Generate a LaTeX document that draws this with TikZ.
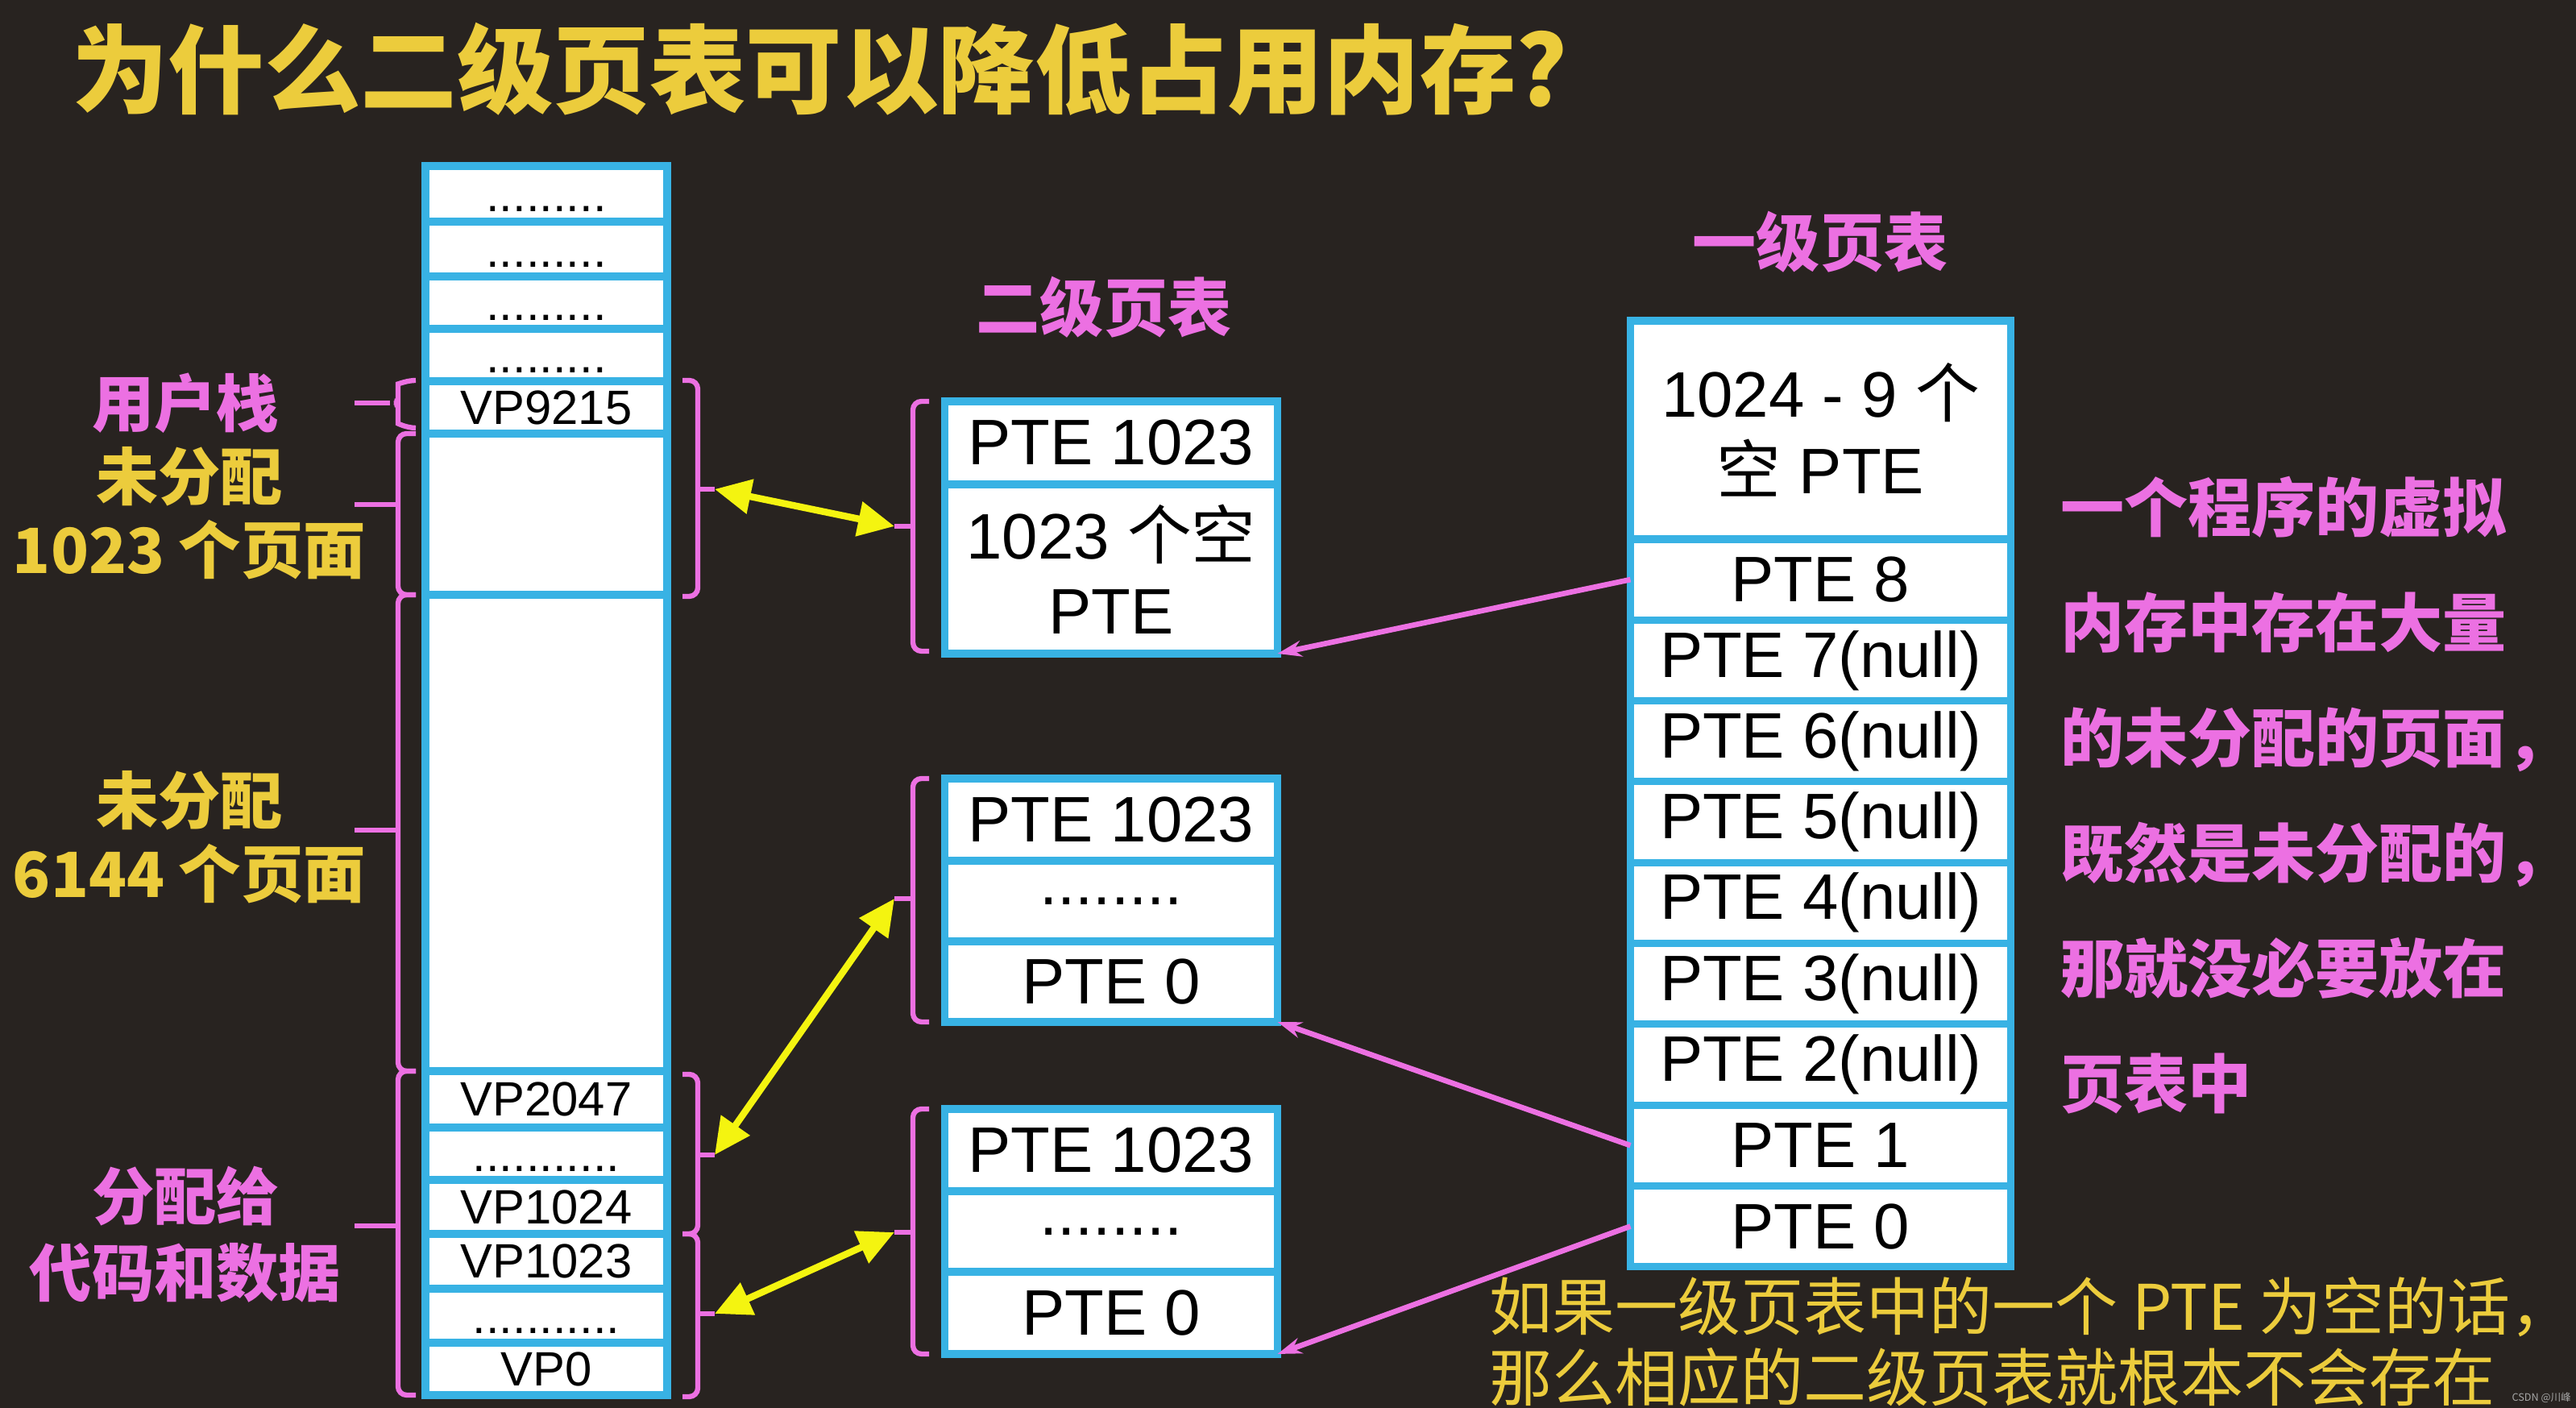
\documentclass[tikz,border=0pt]{standalone}
\usepackage{fontspec}
\setmainfont{Liberation Sans}
\newfontfamily\cjk{Noto Sans CJK SC}
\usetikzlibrary{positioning,arrows.meta}

\definecolor{bgdark}{RGB}{40,35,32}
\definecolor{cellblue}{RGB}{56,178,228}
\definecolor{lblpink}{RGB}{236,112,226}
\definecolor{lblyellow}{RGB}{236,204,60}
\definecolor{arrowyellow}{RGB}{244,244,16}

\tikzset{
  vcell/.style={draw=cellblue, line width=2.6pt, fill=white, inner sep=0pt, outer sep=0pt,
    minimum width=3.0cm, font=\fontsize{17}{20}\selectfont},
  pcell/.style={vcell, minimum width=4.13cm, font=\fontsize{22.7}{26.5}\selectfont},
  rcell/.style={vcell, minimum width=4.72cm, font=\fontsize{22.7}{27.2}\selectfont},
  dotrow/.style={text height=0.45cm, text depth=0pt},
  ptext/.style={text=lblpink, font=\cjk\bfseries\fontsize{22}{26}\selectfont, align=center},
  ytext/.style={ptext, text=lblyellow},
  brak/.style={draw=lblpink, line width=1.8pt, rounded corners=3pt},
  yarrow/.style={draw=arrowyellow, line width=2.4pt,
    {Triangle[length=0.45cm,width=0.42cm]}-{Triangle[length=0.45cm,width=0.42cm]}},
  parrow/.style={draw=lblpink, line width=1.9pt, -{Stealth[length=0.3cm,width=0.2cm]}},
}

\begin{document}
\begin{tikzpicture}
\useasboundingbox (0,0) rectangle (31.97,17.47);
\fill[bgdark] (0,0) rectangle (31.97,17.47);
\clip (0,0) rectangle (31.97,17.47);

\node[ytext, anchor=west, font=\cjk\bfseries\fontsize{34}{40}\selectfont] (title) at (0.77,16.61) {为什么二级页表可以降低占用内存?};

% virtual pages
\node[vcell, dotrow, minimum height=0.69cm] (m1) at (6.78,15.065) {.........};
\node[vcell, dotrow, minimum height=0.68cm, below=0pt of m1] (m2) {.........};
\node[vcell, dotrow, minimum height=0.65cm, below=0pt of m2] (m3) {.........};
\node[vcell, dotrow, minimum height=0.65cm, below=0pt of m3] (m4) {.........};
\node[vcell, minimum height=0.65cm, below=0pt of m4] (vp9215) {VP9215};
\node[vcell, minimum height=2.00cm, below=0pt of vp9215] (free1) {};
\node[vcell, minimum height=5.91cm, below=0pt of free1] (free2) {};
\node[vcell, minimum height=0.70cm, below=0pt of free2] (vp2047) {VP2047};
\node[vcell, dotrow, minimum height=0.65cm, below=0pt of vp2047] (m5) {...........};
\node[vcell, minimum height=0.67cm, below=0pt of m5] (vp1024) {VP1024};
\node[vcell, minimum height=0.68cm, below=0pt of vp1024] (vp1023) {VP1023};
\node[vcell, dotrow, minimum height=0.67cm, below=0pt of vp1023] (m6) {...........};
\node[vcell, minimum height=0.65cm, below=0pt of m6] (vp0) {VP0};

% labels on the left
\node[ptext] (stacklbl) at (2.30,12.47) {用户栈};
\node[ytext] (free1lbl) at (2.35,11.10) {未分配\\1023 个页面};
\node[ytext] (free2lbl) at (2.35,7.08) {未分配\\6144 个页面};
\node[ptext, font=\cjk\bfseries\fontsize{22}{27}\selectfont] (codelbl) at (2.30,2.15) {分配给\\代码和数据};

\draw[brak] (5.16,12.75) to[out=180,in=90] (4.94,12.60) -- (4.94,12.55) to[out=-90,in=0] (4.84,12.47)
  to[out=0,in=90] (4.94,12.39) -- (4.94,12.32) to[out=-90,in=180] (5.16,12.16);
\draw[brak] (4.84,12.47) -- (4.40,12.47);
\draw[brak] (5.16,12.09) -| (4.94,10.09) -- (5.16,10.09);
\draw[brak] (4.94,11.21) -- (4.40,11.21);
\draw[brak] (5.16,10.09) -| (4.94,4.18) -- (5.16,4.18);
\draw[brak] (4.94,7.17) -- (4.40,7.17);
\draw[brak] (5.16,4.18) -| (4.94,0.16) -- (5.16,0.16);
\draw[brak] (4.94,2.26) -- (4.40,2.26);

% brackets right of the pages
\coordinate (sv) at (8.87,11.40);
\coordinate (sc) at (8.87,3.14);
\coordinate (sd) at (8.87,1.17);
\draw[brak] (8.47,12.75) -| (8.66,10.07) -- (8.47,10.07);
\draw[brak] (8.66,11.40) -- (sv);
\draw[brak] (8.47,4.14) -| (8.66,2.16) -- (8.47,2.16);
\draw[brak] (8.66,3.14) -- (sc);
\draw[brak] (8.47,2.16) -| (8.66,0.14) -- (8.47,0.14);
\draw[brak] (8.66,1.17) -- (sd);

% second level tables
\node[ptext, font=\cjk\bfseries\fontsize{22.5}{26}\selectfont] (l2title) at (13.70,13.66) {二级页表};
\node[pcell, minimum height=1.03cm] (t1a) at (13.79,11.975) {PTE 1023};
\node[pcell, minimum height=2.10cm, align=center, below=0pt of t1a] (t1b) {1023 {\cjk 个空}\\PTE};

\node[pcell, minimum height=1.02cm] (t2a) at (13.79,7.30) {PTE 1023};
\node[pcell, minimum height=1.00cm, below=0pt of t2a] (t2b) {........};
\node[pcell, minimum height=1.00cm, below=0pt of t2b] (t2c) {PTE 0};

\node[pcell, minimum height=1.02cm] (t3a) at (13.79,3.20) {PTE 1023};
\node[pcell, minimum height=1.00cm, below=0pt of t3a] (t3b) {........};
\node[pcell, minimum height=1.02cm, below=0pt of t3b] (t3c) {PTE 0};

\coordinate (s1) at (11.10,10.94);
\coordinate (s2) at (11.10,6.32);
\coordinate (s3) at (11.10,2.18);
\draw[brak] (11.53,12.49) -| (11.33,9.39) -- (11.53,9.39);
\draw[brak] (11.33,10.94) -- (s1);
\draw[brak] (11.53,7.81) -| (11.33,4.79) -- (11.53,4.79);
\draw[brak] (11.33,6.32) -- (s2);
\draw[brak] (11.53,3.71) -| (11.33,0.67) -- (11.53,0.67);
\draw[brak] (11.33,2.18) -- (s3);

\draw[yarrow] (sv) -- (s1);
\draw[yarrow] (sc) -- (s2);
\draw[yarrow] (sd) -- (s3);

% first level table
\node[ptext, font=\cjk\bfseries\fontsize{22.5}{26}\selectfont] (l1title) at (22.59,14.47) {一级页表};
\node[rcell, minimum height=2.71cm, align=center] (p9) at (22.595,12.135) {1024 - 9 {\cjk 个}\\{\cjk 空} PTE};
\node[rcell, minimum height=1.003cm, below=0pt of p9] (p8) {PTE 8};
\node[rcell, minimum height=1.003cm, below=0pt of p8] (p7) {PTE 7(null)};
\node[rcell, minimum height=1.003cm, below=0pt of p7] (p6) {PTE 6(null)};
\node[rcell, minimum height=1.003cm, below=0pt of p6] (p5) {PTE 5(null)};
\node[rcell, minimum height=1.003cm, below=0pt of p5] (p4) {PTE 4(null)};
\node[rcell, minimum height=1.003cm, below=0pt of p4] (p3) {PTE 3(null)};
\node[rcell, minimum height=1.003cm, below=0pt of p3] (p2) {PTE 2(null)};
\node[rcell, minimum height=1.003cm, below=0pt of p2] (p1) {PTE 1};
\node[rcell, minimum height=1.003cm, below=0pt of p1] (p0) {PTE 0};

\draw[parrow] (p8.west) -- (t1b.south east);
\draw[parrow] (p1.west) -- (t2c.south east);
\draw[parrow] (p0.west) -- (t3c.south east);

% notes
\node[ptext, anchor=west, align=left, font=\cjk\bfseries\fontsize{22.5}{40.7}\selectfont] (note) at (25.45,7.60)
  {一个程序的虚拟\\内存中存在大量\\的未分配的页面，\\既然是未分配的，\\那就没必要放在\\页表中};
\node[ytext, anchor=west, align=left, font=\cjk\fontsize{22.2}{25}\selectfont] (foot) at (18.36,0.82)
  {如果一级页表中的一个 PTE 为空的话，\\那么相应的二级页表就根本不会存在};
\node[anchor=south east, inner sep=1pt, text=gray!70, font=\cjk\fontsize{3.6}{4}\selectfont] (mark) at (31.95,0.02) {CSDN @川峰};
\end{tikzpicture}
\end{document}
